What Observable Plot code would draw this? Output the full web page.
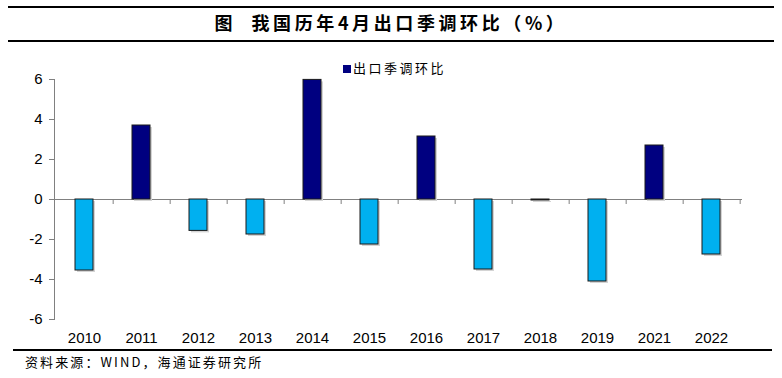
<!DOCTYPE html>
<html><head><meta charset="utf-8">
<script src="https://cdn.jsdelivr.net/npm/d3@7"></script>
<script src="https://cdn.jsdelivr.net/npm/@observablehq/plot@0.6"></script>
<style>
body{margin:0;background:#fff;}
#wrap{position:relative;width:782px;height:378px;overflow:hidden;background:#fff;}
#wrap svg{position:absolute;left:0;top:0;}
.hl{position:absolute;background:#000;}
#title{position:absolute;left:0;width:782px;top:10px;text-align:center;font-family:"Noto Sans CJK SC",sans-serif;font-weight:700;font-size:18px;letter-spacing:3.6px;line-height:24px;white-space:pre;}
#legend{position:absolute;left:343px;top:59px;font-family:"Noto Sans CJK SC",sans-serif;font-size:13px;letter-spacing:2.5px;line-height:18px;}
#legend .sw{display:inline-block;width:8px;height:8px;margin-right:2px;vertical-align:0px;}
#source{position:absolute;left:25px;top:353px;font-family:"Noto Sans CJK SC",sans-serif;font-size:13px;letter-spacing:2.1px;line-height:18px;}
</style></head><body>
<div id="wrap">
  <div class="hl" style="left:8px;width:766px;top:6px;height:2px"></div>
  <div id="title"></div>
  <div class="hl" style="left:8px;width:766px;top:40px;height:2px"></div>
  <div id="legend"></div>
  <div class="hl" style="left:13px;width:759px;top:349px;height:1.5px"></div>
  <div id="source"></div>
</div>
<script>
const years = ["2010","2011","2012","2013","2014","2015","2016","2017","2018","2019","2021","2022"];
const values = [-3.55, 3.7, -1.57, -1.75, 5.98, -2.25, 3.15, -3.5, -0.05, -4.1, 2.7, -2.75];
const seriesName = "出口季调环比";
const yTicks = [-6, -4, -2, 0, 2, 4, 6];
const titleText = "图  我国历年4月出口季调环比（%）";
const sourceText = "资料来源：WIND，海通证券研究所";
const posColor = "#000080";
const negColor = "#00B0F0";

const data = years.map((y, i) => ({year: y, value: values[i]}));
const W = 782, H = 378, mL = 54, mR = 40, mT = 79, mB = 59;
const step = (W - mL - mR) / years.length;
const tickLen = 5 * 12 / (H - mT - mB);

document.getElementById("title").textContent = titleText;
document.getElementById("source").textContent = sourceText;
document.getElementById("legend").innerHTML = `<span class="sw" style="background:${posColor}"></span>${seriesName}`;

const chart = Plot.plot({
  width: W, height: H,
  marginLeft: mL, marginRight: mR, marginTop: mT, marginBottom: mB,
  style: {fontFamily: "'Liberation Sans', Arial, sans-serif", fontSize: "15px", background: "transparent", color: "#000"},
  x: {type: "band", domain: years, paddingInner: 0.68, paddingOuter: 0.34},
  y: {domain: [-6, 6]},
  color: {type: "identity"},
  marks: [
    Plot.axisY({ticks: yTicks, tickSize: 5, tickPadding: 7, stroke: "#808080", fill: "#000", tickFormat: d => String(d), label: null}),
    Plot.axisX({tickSize: 0, tickPadding: 13, fill: "#000", label: null}),
    Plot.frame({anchor: "left", stroke: "#808080"}),
    Plot.ruleY([0], {stroke: "#808080"}),
    Plot.ruleX(years, {x: d => d, y1: 0, y2: -tickLen, dx: step / 2, stroke: "#808080"}),
    Plot.barY(data, {x: "year", y: "value", fill: "#d4d4d4", dx: 2, dy: 2}),
    Plot.barY(data, {x: "year", y: "value", fill: d => d.value >= 0 ? posColor : negColor, stroke: "#1a1a1a", strokeWidth: 1})
  ]
});
document.getElementById("wrap").prepend(chart);
</script>
</body></html>
